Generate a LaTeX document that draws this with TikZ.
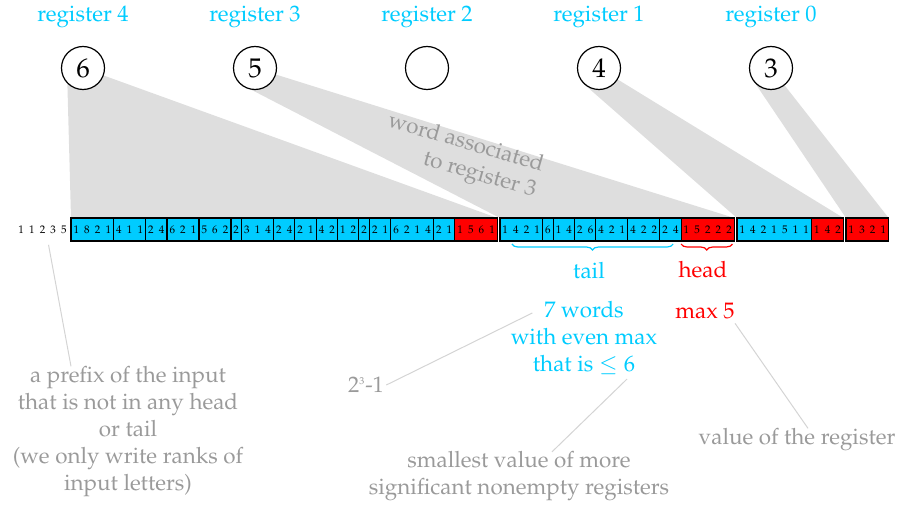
\documentclass[tikz,border=0pt]{standalone}
\usepackage[T1]{fontenc}
\usepackage{mathpazo}
\usetikzlibrary{positioning,calc,decorations.pathreplacing,backgrounds}
\definecolor{tailcol}{HTML}{00CCFF}
\definecolor{headcol}{HTML}{FF0000}
\definecolor{bandgray}{HTML}{DEDEDE}
\definecolor{notegray}{HTML}{9A9A9A}
\definecolor{linegray}{HTML}{D4D4D4}
\newcommand{\wordfont}{\fontsize{5.5}{6}\selectfont\spaceskip=2.58pt\relax}

\begin{document}
\begin{tikzpicture}[x=0.5pt,y=-0.5pt,font=\fontsize{11.2}{13.5}\selectfont,
  word/.style={draw=black,line width=0.6pt,minimum height=11.5pt,inner xsep=1.29pt,inner ysep=0pt,outer sep=0pt,font=\wordfont},
  regcirc/.style={circle,draw=black,line width=0.6pt,fill=white,minimum size=21.5pt,inner sep=0pt,font=\fontsize{13.5}{15}\selectfont},
  reglabel/.style={text=tailcol},
  note/.style={text=notegray,align=center,inner sep=1pt},
  noteline/.style={draw=linegray,line width=0.5pt},
  bracedown/.style={decorate,decoration={brace,mirror,amplitude=3pt},line width=0.6pt}]
\useasboundingbox (0,0) rectangle (899,508);

% registers
\foreach \r/\x/\v in {4/83/6,3/255/5,2/427/{},1/599/4,0/771/3} {
  \node[reglabel] (lab\r) at (\x,17) {register \r};
  \node[regcirc] (r\r) at (\x,68) {\v};
}

% the words, tails and heads
\coordinate (w0) at (71,229.5);
\node[font=\wordfont,inner sep=0pt,left=2pt of w0] (pre) {1 1 2 3 5};
\foreach \g/\c/\t [count=\k, remember=\k as \p (initially 0)] in {
  0pt/tailcol/1 8 2 1, 0pt/tailcol/4 1 1, 0pt/tailcol/2 4, 0pt/tailcol/6 2 1,
  0pt/tailcol/5 6 2, 0pt/tailcol/2, 0pt/tailcol/3 1 4, 0pt/tailcol/2 4,
  0pt/tailcol/2 1, 0pt/tailcol/4 2, 0pt/tailcol/1 2, 0pt/tailcol/2,
  0pt/tailcol/2 1, 0pt/tailcol/6 2 1 4, 0pt/tailcol/2 1, 0pt/headcol/1 5 6 1,
  1.25pt/tailcol/1 4 2 1, 0pt/tailcol/6, 0pt/tailcol/1 4, 0pt/tailcol/2 6,
  0pt/tailcol/4 2 1, 0pt/tailcol/4 2 2, 0pt/tailcol/2 4, 0pt/headcol/1 5 2 2 2,
  1.25pt/tailcol/1 4 2 1 5 1 1, 0pt/headcol/1 4 2,
  1.25pt/headcol/1 3 2 1} {
  \node[word,fill=\c,right=\g of w\p] (w\k) {\t};
}

% bands from the registers to their words
\begin{pgfonlayer}{background}
\foreach \r/\a/\b in {4/1/16,3/17/24,1/25/26,0/27/27}
  \fill[bandgray] (r\r.south west) -- (w\a.north west) -- (w\b.north east) -- (r\r.center) -- cycle;
\end{pgfonlayer}
\node[note,rotate=-16,align=right] (assoc) at (462,157) {word associated\\to register 3};

% tail and head of register 3
\draw[tailcol,bracedown] ($(w17.south west)+(12,3)$) -- ($(w23.south east)+(-8,3)$);
\draw[headcol,bracedown] ($(w24.south west)+(0,3)$) -- ($(w24.south east)+(-2,3)$);
\node[text=tailcol] (taillab) at (589,270) {tail};
\node[text=headcol] (headlab) at (703,270) {head};
\node[text=tailcol,align=center,inner sep=1pt] (wordsnote) at (584,338) {7 words\\with even max\\that is $\leq 6$};
\node[text=headcol,inner sep=1pt] (maxnote) at (705,311) {max 5};

% remarks
\node[note] (pownote) at (366,385) {2\textsuperscript{\tiny 3}-1};
\node[note] (smallnote) at (519,476) {smallest value of more\\significant nonempty registers};
\node[note] (valuenote) at (797,440) {value of the register};
\node[note] (prefixnote) at (128,432) {a prefix of the input\\that is not in any head\\or tail\\(we only write ranks of\\input letters)};
\draw[noteline] (pownote.east) -- ($(wordsnote.north west)+(24,14)$);
\draw[noteline] ($(wordsnote.south)+(43,2)$) -- ($(smallnote.north)+(33,3)$);
\draw[noteline] ($(maxnote.south east)+(-2,2)$) -- ($(valuenote.north)+(11,2)$);
\draw[noteline] ($(pre.south)+(6,11)$) -- ($(prefixnote.north)+(-57,2)$);
\end{tikzpicture}
\end{document}
